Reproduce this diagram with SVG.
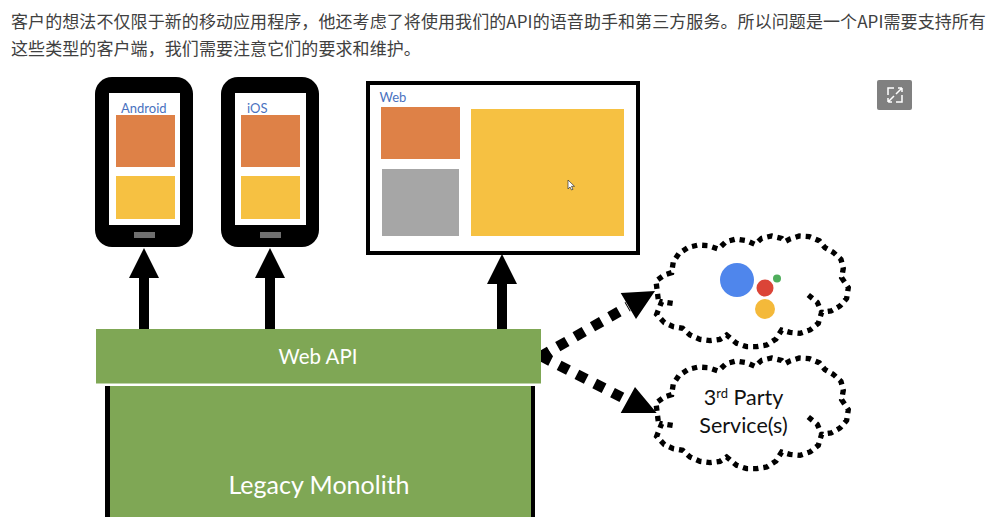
<svg xmlns="http://www.w3.org/2000/svg" xmlns:xlink="http://www.w3.org/1999/xlink" width="1001" height="517" viewBox="0 0 1001 517">
<style>
.hd{font-family:"Noto Sans CJK SC","Noto Sans",sans-serif;font-size:17px;fill:#404040;letter-spacing:.08px}
.lb{font-family:Lato,"Open Sans",sans-serif;font-size:13px;fill:#4a72c0}
.w{font-family:Lato,"Open Sans",sans-serif;fill:#fff;text-anchor:middle}
.k{font-family:Lato,"Open Sans",sans-serif;fill:#111;text-anchor:middle;font-size:21.500px}
.or{fill:#de8147}.ye{fill:#f6c142}.gr{fill:#7fa755}
.cloud{fill:none;stroke:#000;stroke-width:16;stroke-dasharray:16 15}
.ar{stroke:#000;stroke-width:10;fill:none}
.da{stroke:#000;stroke-width:10.500;stroke-dasharray:10.500 9.500;fill:none}
</style>
<defs>
<path id="cl" class="cloud" d="M428 235L395 230L380 268L403 293L430 305L458 310L480 330L510 343L540 347L570 343L590 330L620 355L650 365L680 365L710 360L738 342L755 315L780 322L810 325L840 315L865 295L875 262L903 258L930 243L950 220L955 188L935 158L940 130L933 103L910 82L885 68L868 47L838 35L808 33L780 42L765 50L755 40L725 33L695 40L675 58L650 47L618 42L588 50L565 72L535 62L505 60L475 67L447 85L430 110L425 143L403 150L378 168L385 225M835 210L862 232L875 262"/>
</defs>
<rect width="1001" height="517" fill="#fff"/>
<g id="intro">
<text class="hd" x="11" y="28">客户的想法不仅限于新的移动应用程序&#xFF0C;他还考虑了将使用我们的API的语音助手和第三方服务。所以问题是一个API需要支持所有</text>
<text class="hd" x="11" y="55">这些类型的客户端&#xFF0C;我们需要注意它们的要求和维护。</text>
</g>
<g id="android">
<rect x="95" y="77" width="98" height="170" rx="17" fill="#000"/>
<rect x="109" y="93" width="71" height="132" fill="#fff"/>
<text class="lb" x="121" y="112.500">Android</text>
<rect class="or" x="116" y="115" width="59" height="52"/>
<rect class="ye" x="116" y="176" width="59" height="43"/>
<rect x="134" y="232" width="21" height="6" fill="#6f6f6f"/>
</g>
<g id="ios">
<rect x="221" y="77" width="98" height="170" rx="17" fill="#000"/>
<rect x="235" y="93" width="71" height="132" fill="#fff"/>
<text class="lb" x="247" y="112.500">iOS</text>
<rect class="or" x="241" y="115" width="59" height="52"/>
<rect class="ye" x="241" y="176" width="59" height="43"/>
<rect x="260" y="232" width="21" height="6" fill="#6f6f6f"/>
</g>
<g id="web">
<rect x="368" y="83" width="270" height="170" fill="#fff" stroke="#000" stroke-width="4"/>
<text class="lb" x="379.500" y="101.500">Web</text>
<rect class="or" x="381" y="107" width="79" height="52"/>
<rect x="382" y="169" width="77" height="67" fill="#a6a6a6"/>
<rect class="ye" x="471" y="109" width="153" height="127"/>
<path d="M568 180v9l2-2 1.500 3 1.500-.7-1.500-3h3z" fill="#fff" stroke="#333" stroke-width=".7"/>
</g>
<g id="expand">
<rect x="877" y="80" width="35" height="30" rx="2" fill="#808080"/>
<path d="M888 95v-7h6M896 94l6-6M902 88h-4M902 88v4M902 95v7h-6M894 96l-6 6M888 102h4M888 102v-4" fill="none" stroke="#fff" stroke-width="1.500"/>
</g>
<g id="connectors">
<path class="ar" d="M144 329V275M270 329V275M502 329V282"/>
<path d="M144 248l15 30h-30zM270 248l15 30h-30zM502 254l15 30h-30z" fill="#000"/>
<path class="da" d="M540.400 356.600L628 306.500M541.300 356.200L625 399"/>
<path d="M655 291L636 319L620.700 293zM656.700 413H620.700L635 387z" fill="#000"/>
<path d="M540 353.300L546.700 347.700L552.700 355.700L546.700 364.300L540 360z" fill="#000"/>
</g>
<g id="assistant">
<use xlink:href="#cl" href="#cl" transform="translate(530 225) scale(.3333)"/>
<circle cx="737" cy="280" r="17" fill="#4f86ec"/>
<circle cx="765" cy="288" r="8.500" fill="#db4437"/>
<circle cx="777" cy="278.500" r="4" fill="#4fae5c"/>
<circle cx="765" cy="309" r="10" fill="#f4b93a"/>
</g>
<g id="third-party">
<use xlink:href="#cl" href="#cl" transform="translate(530 347) scale(.3333)"/>
<text class="k" x="743.500" y="405">3<tspan font-size="13" dy="-7">rd</tspan><tspan dy="7"> Party</tspan></text>
<text class="k" x="743.500" y="432.500">Service(s)</text>
</g>
<g id="monolith">
<rect x="105" y="386" width="430" height="131" fill="#000"/>
<rect class="gr" x="110" y="386" width="421" height="131"/>
<text class="w" x="319" y="494" font-size="25">Legacy Monolith</text>
</g>
<g id="webapi">
<rect class="gr" x="96" y="329" width="445" height="54.500"/>
<text class="w" x="318" y="364" font-size="20.500">Web API</text>
</g>
</svg>
